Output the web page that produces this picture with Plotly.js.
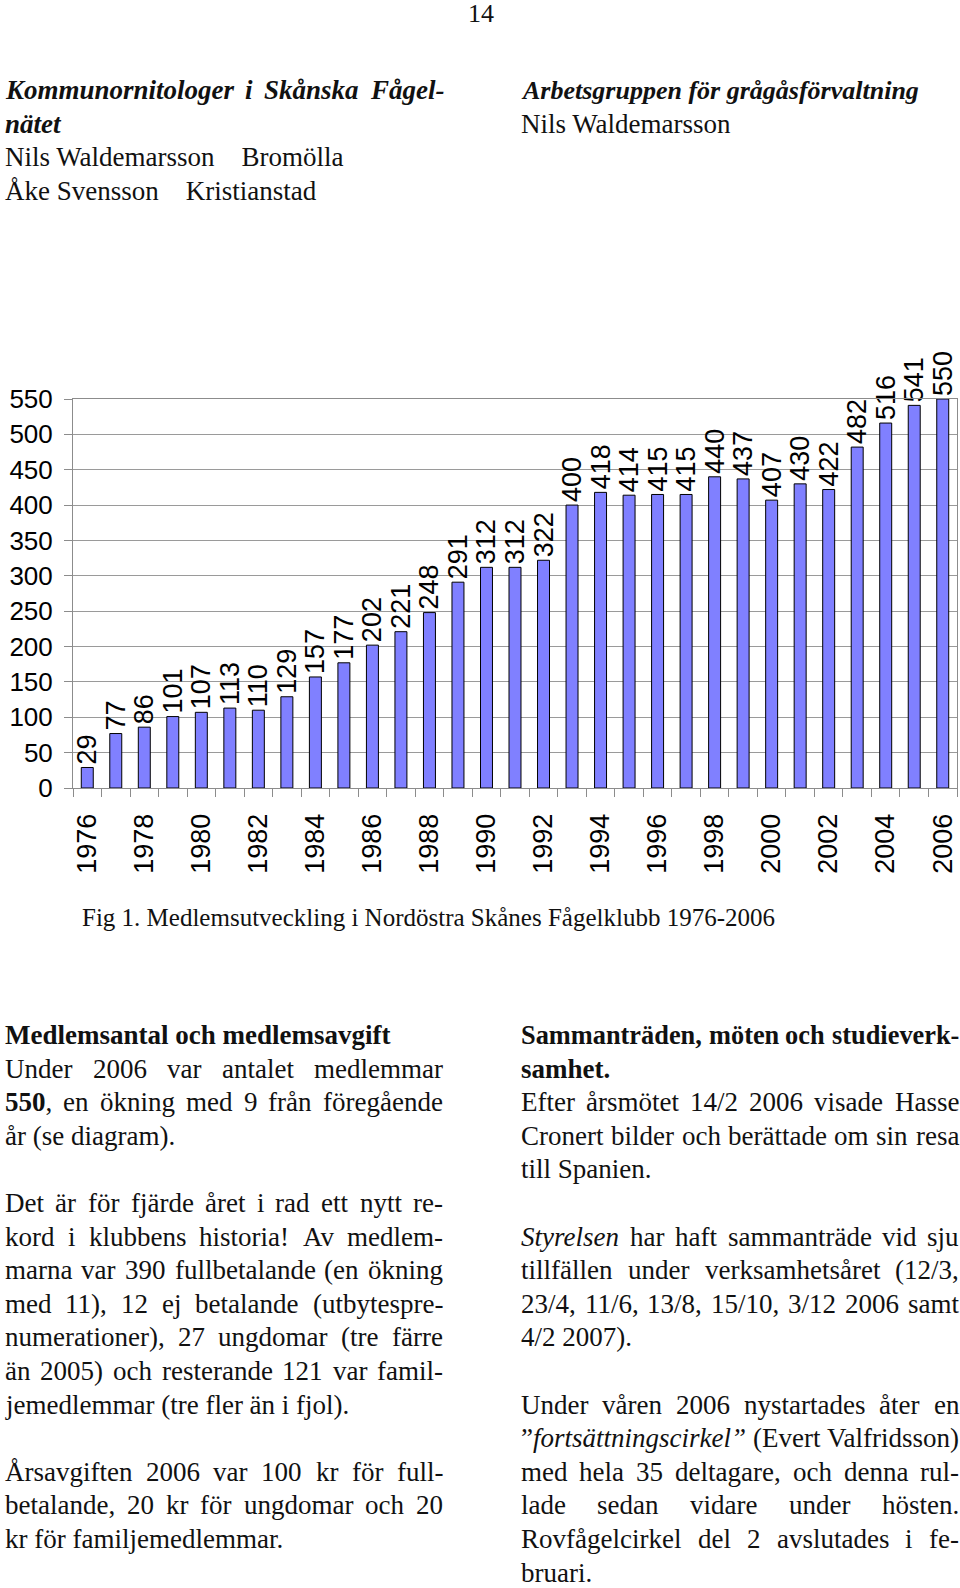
<!DOCTYPE html>
<html>
<head>
<meta charset="utf-8">
<script src="https://cdn.plot.ly/plotly-3.0.1.min.js"></script>
<style>
  html, body { margin: 0; padding: 0; background: #ffffff; }
  #chart { width: 960px; height: 1588px; }
</style>
</head>
<body>
<div id="chart"></div>
<script>
// ---- Data ----
const years = [1976, 1977, 1978, 1979, 1980, 1981, 1982, 1983, 1984, 1985,
               1986, 1987, 1988, 1989, 1990, 1991, 1992, 1993, 1994, 1995,
               1996, 1997, 1998, 1999, 2000, 2001, 2002, 2003, 2004, 2005, 2006];
const members = [29, 77, 86, 101, 107, 113, 110, 129, 157, 177,
                 202, 221, 248, 291, 312, 312, 322, 400, 418, 414,
                 415, 415, 440, 437, 407, 430, 422, 482, 516, 541, 550];
const yearTickLabels = ["1976", "1978", "1980", "1982", "1984", "1986", "1988", "1990",
                        "1992", "1994", "1996", "1998", "2000", "2002", "2004", "2006"];

// ---- Page text (j = justified line) ----
const pageNumber = "14";
const headerLeft = [
  { t: "<b><i>Kommunornitologer i Skånska Fågel-</i></b>", j: true },
  { t: "<b><i>nätet</i></b>" },
  { t: "Nils Waldemarsson    Bromölla" },
  { t: "Åke Svensson    Kristianstad" }
];
const headerRight = [
  { t: "<b><i>Arbetsgruppen för grågåsförvaltning</i></b>", s: 26 },
  { t: "Nils Waldemarsson" }
];
const caption = "Fig 1. Medlemsutveckling i Nordöstra Skånes Fågelklubb 1976-2006";
const bodyLeft = [
  { t: "<b>Medlemsantal och medlemsavgift</b>" },
  { t: "Under 2006 var antalet medlemmar", j: true },
  { t: "<b>550</b>, en ökning med 9 från föregående", j: true },
  { t: "år (se diagram)." },
  null,
  { t: "Det är för fjärde året i rad ett nytt re-", j: true },
  { t: "kord i klubbens historia! Av medlem-", j: true },
  { t: "marna var 390 fullbetalande (en ökning", j: true },
  { t: "med 11), 12 ej betalande (utbytespre-", j: true },
  { t: "numerationer), 27 ungdomar (tre färre", j: true },
  { t: "än 2005) och resterande 121 var famil-", j: true },
  { t: "jemedlemmar (tre fler än i fjol)." },
  null,
  { t: "Årsavgiften 2006 var 100 kr för full-", j: true },
  { t: "betalande, 20 kr för ungdomar och 20", j: true },
  { t: "kr för familjemedlemmar." }
];
const bodyRight = [
  { t: "<b>Sammanträden, möten och studieverk-</b>", j: true },
  { t: "<b>samhet.</b>" },
  { t: "Efter årsmötet 14/2 2006 visade Hasse", j: true },
  { t: "Cronert bilder och berättade om sin resa", j: true },
  { t: "till Spanien." },
  null,
  { t: "<i>Styrelsen</i> har haft sammanträde vid sju", j: true },
  { t: "tillfällen under verksamhetsåret (12/3,", j: true },
  { t: "23/4, 11/6, 13/8, 15/10, 3/12 2006 samt", j: true },
  { t: "4/2 2007)." },
  null,
  { t: "Under våren 2006 nystartades åter en", j: true },
  { t: "”<i>fortsättningscirkel”</i> (Evert Valfridsson)", j: true },
  { t: "med hela 35 deltagare, och denna rul-", j: true },
  { t: "lade sedan vidare under hösten.", j: true },
  { t: "Rovfågelcirkel del 2 avslutades i fe-", j: true },
  { t: "bruari." }
];

// ---- Layout geometry (pixels) ----
const W = 960, H = 1588;
const M = { l: 73, r: 3, t: 399, b: 800 };
const PW = W - M.l - M.r, PH = H - M.t - M.b;
const SERIF_NAME = "Liberation Serif";
const SERIF = "Liberation Serif, Times New Roman, serif";
const SANS = "Liberation Sans, Arial, Helvetica, sans-serif";

function px2x(px) { return (px - M.l) / PW; }
function px2y(py) { return 1 - (py - M.t) / PH; }
function textAnn(text, xpx, ypx, size, anchor) {
  return {
    text: text, xref: "paper", yref: "paper",
    x: px2x(xpx), y: px2y(ypx),
    xanchor: anchor || "left", yanchor: "middle",
    showarrow: false, align: "left",
    font: { family: SERIF, size: size, color: "#111" }
  };
}

// text measuring for justified lines
const ctx = document.createElement("canvas").getContext("2d");
function measure(seg, size) {
  ctx.font = (seg.i ? "italic " : "") + (seg.b ? "bold " : "") + size + 'px "' + SERIF_NAME + '"';
  return ctx.measureText(seg.t).width;
}
function parseWords(str) {
  const words = []; let cur = []; let seg = ""; let b = false, it = false;
  const flush = () => { if (seg) { cur.push({ t: seg, b: b, i: it }); seg = ""; } };
  let k = 0;
  while (k < str.length) {
    const c = str[k];
    if (c === "<") {
      const end = str.indexOf(">", k);
      const tag = str.slice(k + 1, end).toLowerCase();
      flush();
      if (tag === "b") b = true; else if (tag === "/b") b = false;
      else if (tag === "i") it = true; else if (tag === "/i") it = false;
      k = end + 1; continue;
    }
    if (c === " ") { flush(); if (cur.length) { words.push(cur); cur = []; } k++; continue; }
    seg += c; k++;
  }
  flush(); if (cur.length) words.push(cur);
  return words;
}
function segHtml(sg) {
  return (sg.b ? "<b>" : "") + (sg.i ? "<i>" : "") + sg.t + (sg.i ? "</i>" : "") + (sg.b ? "</b>" : "");
}
function layLine(anns, line, x0, x1, y, baseSize) {
  let size = line.s || baseSize;
  const words = parseWords(line.t);
  const wordsW = (s) => words.map(w => w.reduce((a, sg) => a + measure(sg, s), 0));
  const spaceW = (s) => measure({ t: " ", b: false, i: false }, s);
  let ww = wordsW(size);
  let natural = ww.reduce((a, v) => a + v, 0) + spaceW(size) * (words.length - 1);
  const avail = x1 - x0;
  if (natural > avail) {
    size = size * avail / natural;
    ww = wordsW(size);
  }
  if (!line.j || words.length < 2) {
    anns.push(textAnn(line.t, x0, y, size));
    return;
  }
  const total = ww.reduce((a, v) => a + v, 0);
  const gap = (avail - total) / (words.length - 1);
  let x = x0;
  words.forEach((w, idx) => {
    anns.push(textAnn(w.map(segHtml).join(""), x, y, size));
    x += ww[idx] + gap;
  });
}

const annotations = [];
annotations.push(textAnn(pageNumber, 481, 13, 26, "center"));
const LH = 33.6;
const LX0 = 3, LX1 = 441, RX0 = 519, RX1 = 957;
headerLeft.forEach((ln, i) => layLine(annotations, ln, LX0, LX1, 90 + i * LH, 27));
headerRight.forEach((ln, i) => layLine(annotations, ln, RX0, RX1, 90 + i * LH, 27));
annotations.push(textAnn(caption, 80, 917, 25));
bodyLeft.forEach((ln, i) => { if (ln) layLine(annotations, ln, LX0, LX1, 1035 + i * LH, 27); });
bodyRight.forEach((ln, i) => { if (ln) layLine(annotations, ln, RX0, RX1, 1035 + i * LH, 27); });

const trace = {
  type: "bar",
  x: years,
  y: members,
  text: members.map(String),
  textposition: "outside",
  textangle: -90,
  constraintext: "none",
  cliponaxis: false,
  textfont: { family: SANS, size: 27, color: "#000" },
  marker: { color: "#8080ff", line: { color: "#000000", width: 1 } },
  hoverinfo: "x+y"
};

const layout = {
  width: W, height: H,
  margin: M,
  paper_bgcolor: "#ffffff",
  plot_bgcolor: "#ffffff",
  showlegend: false,
  bargap: 0.58,
  font: { family: SANS, color: "#000" },
  xaxis: {
    type: "linear",
    range: [years[0] - 0.5, years[years.length - 1] + 0.5],
    tickmode: "array",
    tickvals: yearTickLabels.map(Number),
    ticktext: yearTickLabels,
    ticks: "",
    tickangle: -90,
    ticklabelstandoff: 14,
    tickfont: { family: SANS, size: 27, color: "#000" },
    showgrid: false,
    zeroline: false,
    showline: true, linecolor: "#8c8c8c", linewidth: 1,
    mirror: true,
    minor: { tick0: years[0] - 0.5, dtick: 1, ticks: "outside", ticklen: 8, tickcolor: "#8c8c8c", tickwidth: 1, showgrid: false }
  },
  yaxis: {
    range: [0, 550],
    tickmode: "linear", tick0: 0, dtick: 50,
    ticks: "outside", ticklen: 8, tickcolor: "#8c8c8c",
    ticklabelstandoff: 6,
    tickfont: { family: SANS, size: 26, color: "#000" },
    showgrid: true, gridcolor: "#9a9a9a", gridwidth: 1,
    zeroline: false,
    showline: true, linecolor: "#8c8c8c", linewidth: 1,
    mirror: true
  },
  annotations: annotations
};

Plotly.newPlot("chart", [trace], layout, { displayModeBar: false, staticPlot: true });
</script>
</body>
</html>
